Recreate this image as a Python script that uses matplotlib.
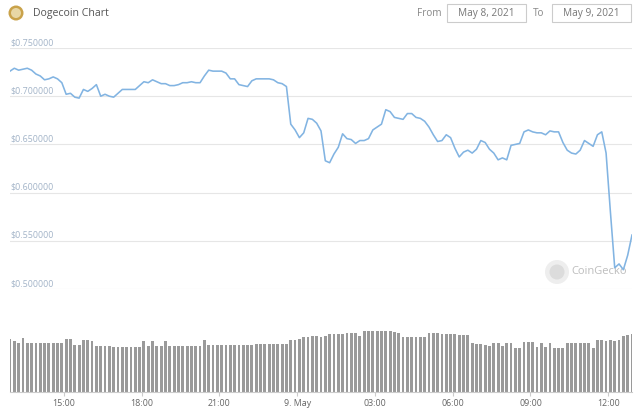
import numpy as np
import pandas as pd
import matplotlib
matplotlib.use("Agg")
import matplotlib.pyplot as plt
from matplotlib.patches import Circle, Rectangle
from matplotlib.transforms import blended_transform_factory

# DOGE price (USD), 10-minute steps from May 8 2021 12:55
price = [
    0.726, 0.729, 0.727, 0.728, 0.729, 0.727, 0.723, 0.721, 0.717, 0.718,
    0.720, 0.718, 0.714, 0.702, 0.703, 0.699, 0.698, 0.707, 0.705, 0.708,
    0.712, 0.700, 0.702, 0.700, 0.699, 0.703, 0.707, 0.707, 0.707, 0.707,
    0.711, 0.715, 0.714, 0.717, 0.715, 0.713, 0.713, 0.711, 0.711, 0.712,
    0.714, 0.714, 0.715, 0.714, 0.714, 0.721, 0.727, 0.726, 0.726, 0.726,
    0.724, 0.718, 0.718, 0.712, 0.711, 0.710, 0.716, 0.718, 0.718, 0.718,
    0.718, 0.717, 0.714, 0.713, 0.710, 0.671, 0.665, 0.657, 0.662, 0.677,
    0.676, 0.672, 0.664, 0.633, 0.631, 0.640, 0.647, 0.661, 0.656, 0.655,
    0.651, 0.654, 0.654, 0.656, 0.665, 0.668, 0.671, 0.686, 0.684, 0.678,
    0.677, 0.676, 0.682, 0.682, 0.678, 0.677, 0.674, 0.668, 0.660, 0.653,
    0.654, 0.660, 0.657, 0.646, 0.637, 0.642, 0.644, 0.641, 0.645, 0.654,
    0.652, 0.645, 0.641, 0.634, 0.636, 0.634, 0.649, 0.650, 0.651, 0.663,
    0.665, 0.663, 0.662, 0.662, 0.660, 0.664, 0.663, 0.663, 0.652, 0.644,
    0.641, 0.640, 0.644, 0.654, 0.651, 0.648, 0.660, 0.663, 0.641, 0.580,
    0.522, 0.526, 0.520, 0.535, 0.556,
]

# total volume (billion USD), same steps
volume = [
    13.7, 13.2, 12.6, 13.9, 12.6, 12.6, 12.6, 12.6, 12.6, 12.6,
    12.6, 12.6, 12.6, 13.7, 13.7, 12.1, 12.1, 13.4, 13.4, 13.2,
    11.9, 11.9, 11.9, 11.9, 11.6, 11.6, 11.6, 11.6, 11.6, 11.6,
    11.6, 13.2, 11.9, 13.2, 11.9, 11.9, 13.2, 11.9, 11.9, 11.9,
    11.9, 11.9, 11.9, 11.9, 11.9, 13.4, 12.1, 12.1, 12.1, 12.1,
    12.1, 12.1, 12.1, 12.1, 12.1, 12.1, 12.1, 12.3, 12.3, 12.3,
    12.3, 12.3, 12.3, 12.3, 12.3, 13.4, 13.4, 13.6, 14.2, 14.2,
    14.4, 14.4, 14.2, 14.4, 15.0, 15.0, 15.0, 15.0, 15.2, 15.2,
    15.2, 14.4, 15.7, 15.7, 15.7, 15.7, 15.7, 15.7, 15.7, 15.4,
    15.2, 14.2, 14.2, 14.2, 14.2, 14.2, 14.2, 15.2, 15.2, 15.2,
    15.0, 15.0, 15.0, 14.9, 14.8, 14.7, 14.6, 12.6, 12.4, 12.3,
    12.1, 12.0, 12.6, 12.6, 11.9, 12.6, 12.6, 11.4, 11.4, 12.9,
    12.9, 12.9, 11.6, 12.6, 11.6, 12.6, 11.4, 11.4, 11.4, 12.6,
    12.6, 12.6, 12.6, 12.6, 12.6, 11.4, 13.4, 13.4, 13.2, 13.4,
    13.1, 13.4, 14.4, 14.7, 14.9,
]

price_ticks = [0.50, 0.55, 0.60, 0.65, 0.70, 0.75]
x_ticks = ["2021-05-08 15:00", "2021-05-08 18:00", "2021-05-08 21:00",
           "2021-05-09 00:00", "2021-05-09 03:00", "2021-05-09 06:00",
           "2021-05-09 09:00", "2021-05-09 12:00"]
x_labels = ["15:00", "18:00", "21:00", "9. May", "03:00", "06:00", "09:00", "12:00"]

times = pd.date_range("2021-05-08 12:55", periods=len(price), freq="10min")

plt.rcParams["font.family"] = ["Open Sans", "DejaVu Sans"]

W, H = 640, 412
fig = plt.figure(figsize=(6.4, 4.12), dpi=100)
fig.patch.set_facecolor("white")

def px(l, t, w, h):
    return [l / W, 1 - (t + h) / H, w / W, h / H]

# CoinGecko watermark (behind everything)
wm = fig.add_axes([0, 0, 1, 1], zorder=-1)
wm.set_xlim(0, W)
wm.set_ylim(H, 0)
wm.axis("off")
wm.add_patch(Circle((557, 272), 12, color="#eeeeee", lw=0))
wm.add_patch(Circle((557, 272), 7.5, color="#dcdcdc", lw=0))
wm.text(571, 272, "CoinGecko", fontsize=8, color="#bdbdbd", va="center", ha="left")

# price panel
ax = fig.add_axes(px(10, 48, 622, 241))
ax.patch.set_alpha(0)
ax.set_xlim(times[0], times[-1])
ax.set_ylim(0.50, 0.75)
for s in ax.spines.values():
    s.set_visible(False)
ax.set_xticks([])
ax.set_yticks([])
tr = blended_transform_factory(ax.transAxes, ax.transData)
for v in price_ticks:
    ax.axhline(v, color="#e6e6e6", lw=0.8, zorder=0)
    ax.text(0.0, v + 0.001, "$%.6f" % v, transform=tr, ha="left", va="bottom",
            fontsize=6.4, color="#a3b4c8")
ax.plot(times, price, color="#82b4e2", lw=1.15, zorder=3)

# volume panel
axv = fig.add_axes(px(10, 330, 622, 62))
axv.patch.set_alpha(0)
axv.set_xlim(times[0], times[-1])
axv.set_ylim(0, 16)
axv.bar(times, volume, width=pd.Timedelta(minutes=6.5) / pd.Timedelta(days=1),
        color="#9a9a9a", align="center")
for k, s in axv.spines.items():
    s.set_visible(k == "bottom")
axv.spines["bottom"].set_color("#cccccc")
axv.set_yticks([])
axv.set_xticks(pd.to_datetime(x_ticks))
axv.set_xticklabels(x_labels)
axv.tick_params(axis="x", length=3, color="#cccccc", labelsize=6.4,
                labelcolor="#666666", pad=2)

# header
hd = fig.add_axes([0, 0, 1, 1], zorder=5)
hd.set_xlim(0, W)
hd.set_ylim(H, 0)
hd.axis("off")
hd.patch.set_alpha(0)
hd.add_patch(Circle((16, 13), 7.5, color="#c9a24a", lw=0))
hd.add_patch(Circle((16, 13), 5, color="#e8d7a5", lw=0))
hd.text(33, 13, "Dogecoin Chart", fontsize=7.6, color="#555555", va="center", ha="left")
hd.text(417, 13, "From", fontsize=7.2, color="#888888", va="center", ha="left")
hd.add_patch(Rectangle((447, 4), 79, 18, fill=False, ec="#cccccc", lw=0.8))
hd.text(486.5, 13, "May 8, 2021", fontsize=7.3, color="#777777", va="center", ha="center")
hd.text(533, 13, "To", fontsize=7.2, color="#888888", va="center", ha="left")
hd.add_patch(Rectangle((552, 4), 79, 18, fill=False, ec="#cccccc", lw=0.8))
hd.text(591.5, 13, "May 9, 2021", fontsize=7.3, color="#777777", va="center", ha="center")

fig.savefig("out.png", dpi=100, facecolor="white")
